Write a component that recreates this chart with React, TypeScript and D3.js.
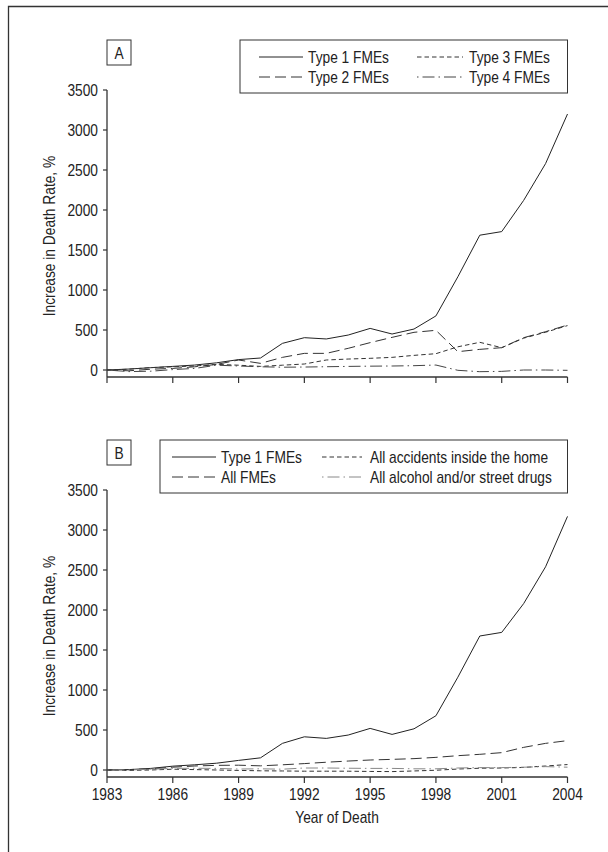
import React from "react";
import * as d3 from "d3";

// Data
const years = [1983, 1984, 1985, 1986, 1987, 1988, 1989, 1990, 1991, 1992, 1993, 1994, 1995, 1996, 1997, 1998, 1999, 2000, 2001, 2002, 2003, 2004];
const yTicks = [0, 500, 1000, 1500, 2000, 2500, 3000, 3500];
const xTicks = [1983, 1986, 1989, 1992, 1995, 1998, 2001, 2004];

const type1A = [0, 12, 29, 45, 62, 90, 130, 150, 333, 404, 388, 437, 520, 450, 512, 676, 1165, 1685, 1730, 2120, 2580, 3200];
const type2A = [0, -10, 10, 20, 40, 70, 125, 83, 158, 208, 208, 271, 342, 408, 471, 496, 229, 258, 279, 404, 479, 562];
const type3A = [0, 10, 30, 40, 50, 70, 60, 45, 60, 75, 125, 137, 146, 158, 183, 204, 290, 346, 279, 398, 472, 555];
const type4A = [0, -20, -15, 5, 20, 60, 50, 40, 35, 37, 41, 45, 48, 50, 54, 62, -4, -21, -17, 0, 0, -4];

const type1B = [0, 5, 20, 48, 65, 85, 120, 152, 333, 415, 395, 437, 520, 445, 515, 678, 1160, 1675, 1720, 2080, 2540, 3170];
const allFmesB = [0, 5, 15, 35, 50, 58, 60, 52, 65, 80, 97, 112, 125, 133, 142, 158, 179, 196, 217, 283, 333, 367];
const homeB = [0, -5, 0, 10, 5, 0, -5, -10, -12, -15, -15, -15, -18, -20, -12, -3, 12, 22, 25, 32, 50, 68];
const alcB = [0, 0, 10, 20, 22, 20, 12, 15, 10, 25, 25, 22, 20, 20, 15, 15, 25, 30, 30, 35, 42, 35];

const FONT = "'Liberation Sans', Arial, sans-serif";
const AXIS = "#333";
const FS = 16;
const SQUEEZE = 0.86; // condensed look

const STYLES: Record<string, { dash: string | undefined; color: string }> = {
  solid: { dash: undefined, color: "#222" },
  long: { dash: "11 5", color: "#333" },
  short: { dash: "4.5 3", color: "#333" },
  dashdot: { dash: "1.5 4 12 4", color: "#444" },
  dashdotGray: { dash: "1.5 4 12 4", color: "#888" },
};

type Series = { name: string; values: number[]; style: string };

// narrow text helper
function T({ x, y, anchor = "start", rotate = 0, children }: { x: number; y: number; anchor?: string; rotate?: number; children: React.ReactNode }) {
  return (
    <text transform={`translate(${x},${y}) rotate(${rotate}) scale(${SQUEEZE},1)`} textAnchor={anchor} fontSize={FS} fill="#222">
      {children}
    </text>
  );
}

const x = d3.scaleLinear().domain([1983, 2004]).range([107, 567.5]);

function Panel({ top, letter, series, legendX, col1X, col2X, sw1, sw2, gap2, showX }: {
  top: number; letter: string; series: Series[]; legendX: number; col1X: number; col2X: number;
  sw1: number; sw2: number; gap2: number; showX: boolean;
}) {
  // top = pixel of the 3500 tick
  const y = d3.scaleLinear().domain([0, 3500]).range([top + 280, top]);
  const base = top + 287;
  const line = d3.line<number>().x((_, i) => x(years[i])).y(d => y(d));
  const legTop = top - 50;
  return (
    <g fontFamily={FONT}>
      {/* letter box */}
      <rect x={107} y={legTop} width={24} height={25} fill="white" stroke={AXIS} strokeWidth={1} />
      <T x={119} y={legTop + 18.5} anchor="middle">{letter}</T>
      {/* legend */}
      <rect x={legendX} y={legTop} width={567.5 - legendX} height={53} fill="white" stroke={AXIS} strokeWidth={1} />
      {series.map((s, i) => {
        const left = i % 2 === 0;
        const cx = left ? col1X : col2X;
        const sw = left ? sw1 : sw2;
        const gap = left ? 5 : gap2;
        const ly = legTop + 17 + Math.floor(i / 2) * 20;
        const st = STYLES[s.style];
        return (
          <g key={s.name}>
            <line x1={cx} x2={cx + sw} y1={ly} y2={ly} stroke={st.color} strokeWidth={1} strokeDasharray={st.dash} />
            <T x={cx + sw + gap} y={ly + 5.5}>{s.name}</T>
          </g>
        );
      })}
      {/* lines */}
      {series.map(s => {
        const st = STYLES[s.style];
        return <path key={s.name} d={line(s.values) || ""} fill="none" stroke={st.color} strokeWidth={1} strokeDasharray={st.dash} />;
      })}
      {/* y axis */}
      <line x1={107} x2={107} y1={y(3500)} y2={base} stroke={AXIS} strokeWidth={1.3} />
      {yTicks.map(t => (
        <g key={t}>
          <line x1={103} x2={107} y1={y(t)} y2={y(t)} stroke={AXIS} strokeWidth={1.2} />
          <T x={98} y={y(t) + 5.7} anchor="end">{t}</T>
        </g>
      ))}
      {/* x axis */}
      <line x1={107} x2={567.5} y1={base} y2={base} stroke={AXIS} strokeWidth={1.5} />
      {xTicks.map(t => (
        <g key={t}>
          <line x1={x(t)} x2={x(t)} y1={base} y2={base + 6} stroke={AXIS} strokeWidth={1.2} />
          {showX && <T x={x(t)} y={base + 23} anchor="middle">{t}</T>}
        </g>
      ))}
      <T x={55} y={top + 146} anchor="middle" rotate={-90}>Increase in Death Rate, %</T>
      {showX && <T x={337} y={base + 46} anchor="middle">Year of Death</T>}
    </g>
  );
}

export default function App() {
  const seriesA: Series[] = [
    { name: "Type 1 FMEs", values: type1A, style: "solid" },
    { name: "Type 3 FMEs", values: type3A, style: "short" },
    { name: "Type 2 FMEs", values: type2A, style: "long" },
    { name: "Type 4 FMEs", values: type4A, style: "dashdot" },
  ];
  const seriesB: Series[] = [
    { name: "Type 1 FMEs", values: type1B, style: "solid" },
    { name: "All accidents inside the home", values: homeB, style: "short" },
    { name: "All FMEs", values: allFmesB, style: "long" },
    { name: "All alcohol and/or street drugs", values: alcB, style: "dashdotGray" },
  ];
  return (
    <svg width={608} height={852} style={{ position: "absolute", left: 0, top: 0, background: "white" }}>
      <rect x={0} y={0} width={608} height={852} fill="white" />
      <path d="M8.5,852 V6.5 H608" fill="none" stroke="#333" strokeWidth={1.3} />
      <Panel top={90} letter="A" series={seriesA} legendX={240} col1X={259} col2X={417} sw1={44} sw2={46} gap2={6} showX={false} />
      <Panel top={490} letter="B" series={seriesB} legendX={160} col1X={172} col2X={322} sw1={44} sw2={40} gap2={8} showX={true} />
    </svg>
  );
}
